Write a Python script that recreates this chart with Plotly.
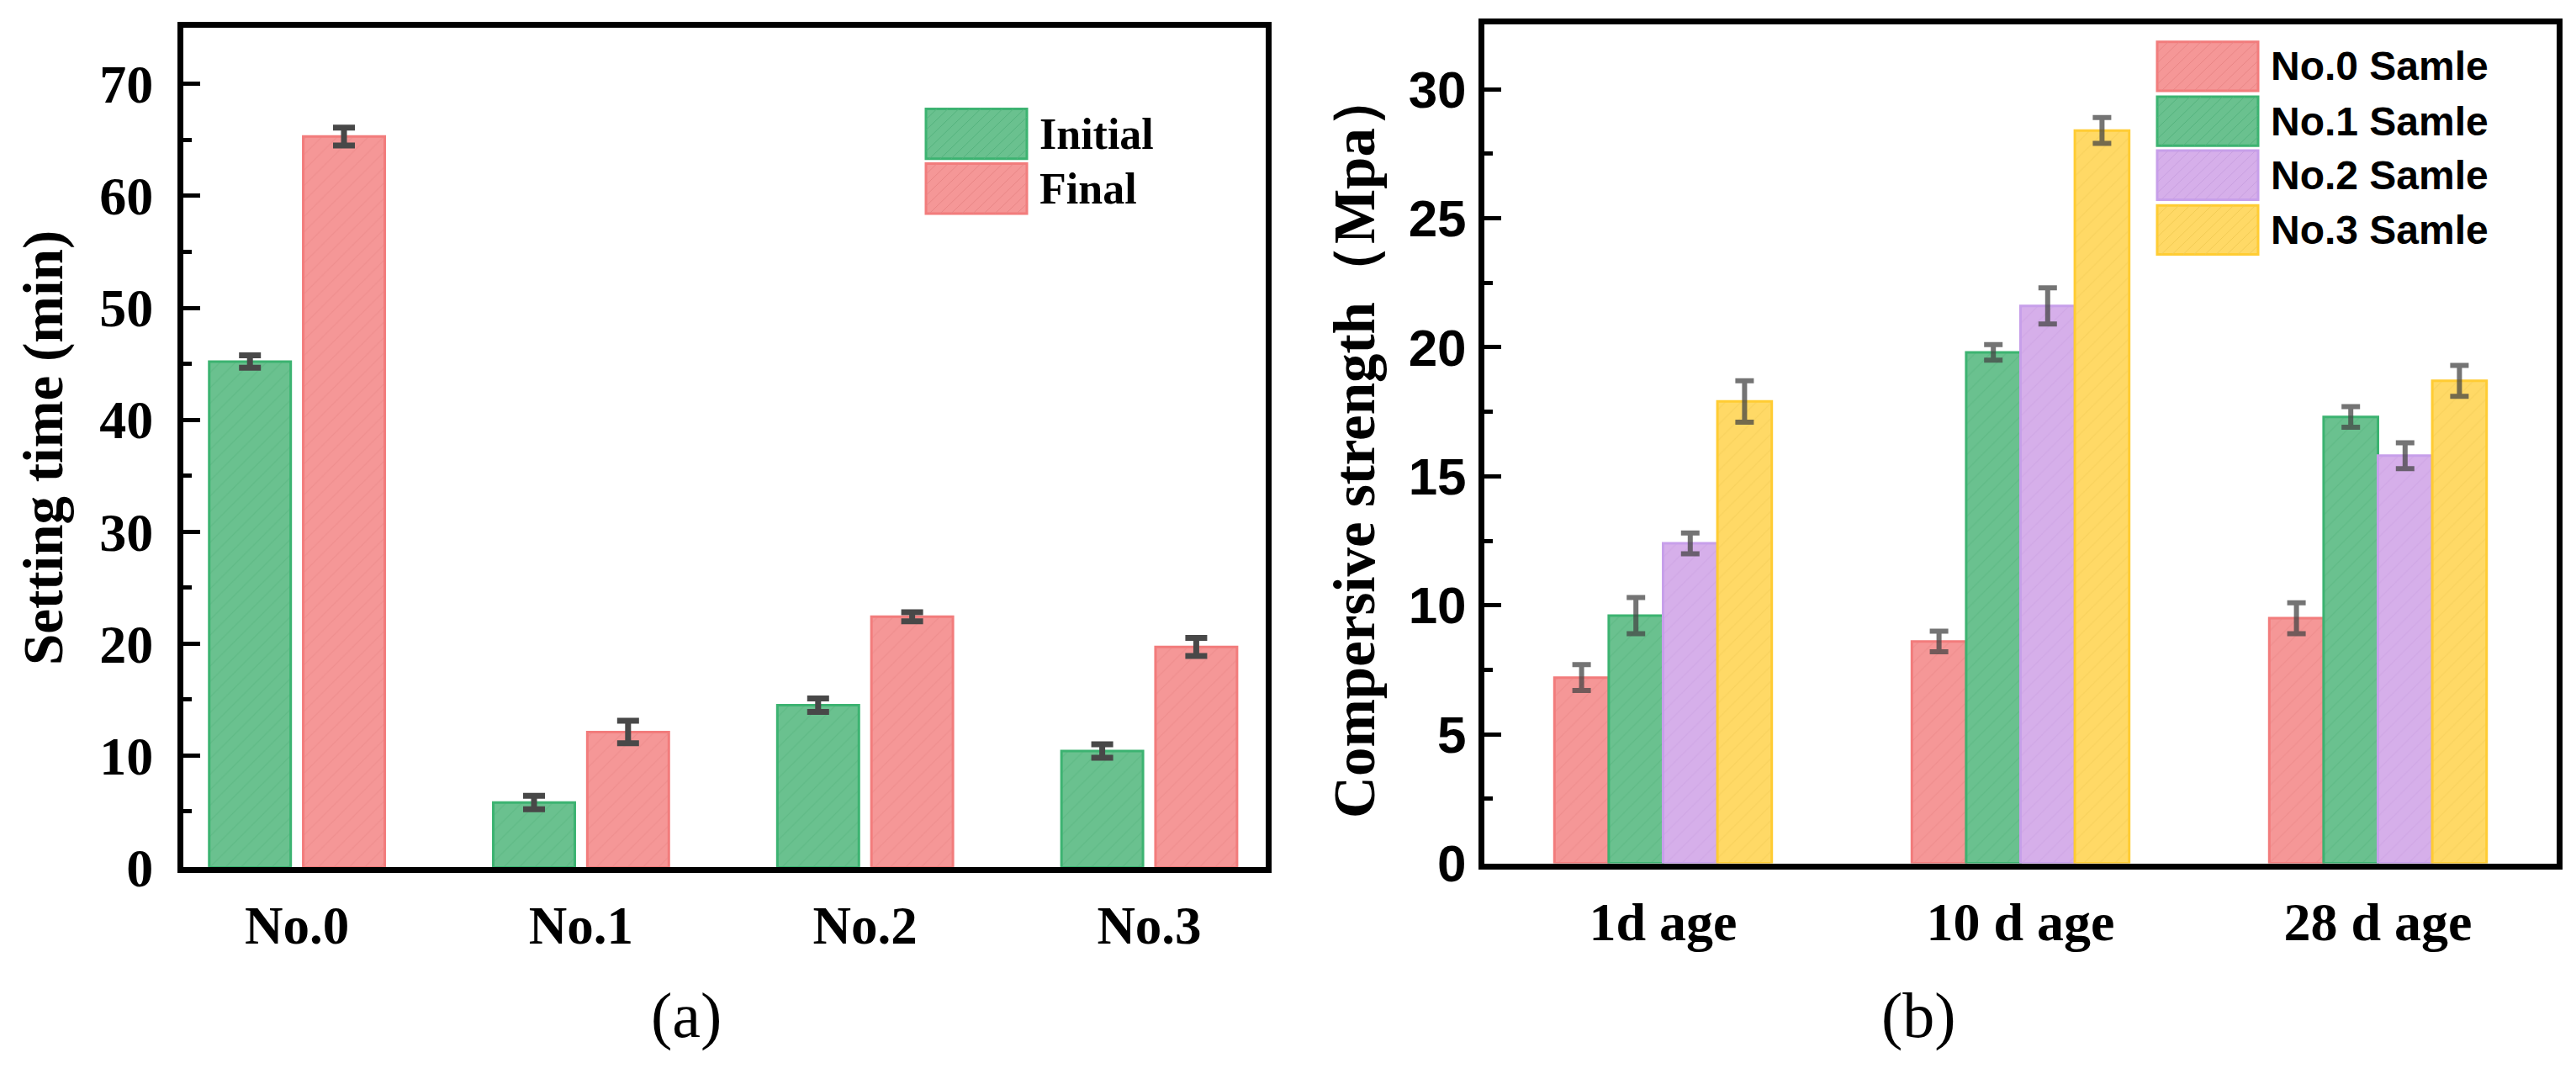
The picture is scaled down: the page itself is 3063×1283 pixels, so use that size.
import plotly.graph_objects as go

W, H = 3063, 1283

# (a) setting time
samples = ["No.0", "No.1", "No.2", "No.3"]
initial = [45.2, 5.8, 14.5, 10.4]
initial_err = [0.55, 0.6, 0.6, 0.6]
final = [65.3, 12.1, 22.4, 19.7]
final_err = [0.8, 1.0, 0.4, 0.8]

# (b) compressive strength
ages = ["1d age", "10 d age", "28 d age"]
no0 = [7.2, 8.6, 9.5]
no0_err = [0.5, 0.4, 0.6]
no1 = [9.6, 19.8, 17.3]
no1_err = [0.7, 0.3, 0.4]
no2 = [12.4, 21.6, 15.8]
no2_err = [0.4, 0.7, 0.5]
no3 = [17.9, 28.4, 18.7]
no3_err = [0.8, 0.5, 0.6]

SERIF = "Liberation Serif"
SANS = "Liberation Sans"

GREEN = dict(fill="#6AC18F", line="#3CB371", hatch="#55B37E")
RED = dict(fill="#F59797", line="#F27C7C", hatch="#E98686")
PURPLE = dict(fill="#D6AFEA", line="#C79FEA", hatch="#C9A0E0")
YELLOW = dict(fill="#FFD966", line="#FFCC33", hatch="#F2CB55")


def px_x(p):
    return p / W


def px_y(p):
    return 1 - p / H


def bar(x, y, err, c, width, offset, xa, ya, err_style):
    return go.Bar(
        x=x, y=y, width=width, offset=offset, xaxis=xa, yaxis=ya,
        showlegend=False,
        marker=dict(color=c["fill"], line=dict(color=c["line"], width=3),
                    pattern=dict(shape="/", fillmode="overlay", fgcolor=c["hatch"],
                                 size=13, solidity=0.1)),
        error_y=dict(type="data", array=err, visible=True, **err_style),
    )


fig = go.Figure()

# panel (a)
wa, ga = 0.287, 0.044
err_a = dict(color="#484848", thickness=7, width=13)
fig.add_trace(bar(samples, initial, initial_err, GREEN, wa, -ga / 2 - wa, "x", "y", err_a))
fig.add_trace(bar(samples, final, final_err, RED, wa, ga / 2, "x", "y", err_a))

# panel (b)
wb = 0.152
err_b = dict(color="rgba(70,70,70,0.75)", thickness=6, width=11)
for i, (vals, errs, c) in enumerate([(no0, no0_err, RED), (no1, no1_err, GREEN),
                                      (no2, no2_err, PURPLE), (no3, no3_err, YELLOW)]):
    fig.add_trace(bar(ages, vals, errs, c, wb, (i - 2) * wb, "x2", "y2", err_b))

axis_common = dict(showline=True, linewidth=7, linecolor="black", mirror=True,
                   showgrid=False, zeroline=False)

fig.update_layout(
    width=W, height=H,
    margin=dict(l=0, r=0, t=0, b=0),
    paper_bgcolor="white", plot_bgcolor="white",
    barmode="overlay",
    xaxis=dict(domain=[px_x(210), px_x(1497)], anchor="y", range=[-0.4, 3.41],
               ticks="", ticklabelstandoff=8,
               tickfont=dict(family=SERIF, size=63, color="black", weight="bold"),
               **axis_common),
    yaxis=dict(domain=[px_y(1053), px_y(26)], anchor="x", range=[0, 75], dtick=10,
               ticks="inside", ticklen=20, tickwidth=5, tickcolor="black",
               ticklabelstandoff=16,
               minor=dict(dtick=5, ticks="inside", ticklen=10, tickwidth=5, tickcolor="black"),
               tickfont=dict(family=SERIF, size=64, color="black", weight="bold"),
               title=dict(text="Setting time (min)", standoff=24,
                          font=dict(family=SERIF, size=67, color="black", weight="bold")),
               **axis_common),
    xaxis2=dict(domain=[px_x(1757), px_x(3032)], anchor="y2", range=[-0.5, 2.5],
                ticks="", ticklabelstandoff=8,
                tickfont=dict(family=SERIF, size=64, color="black", weight="bold"),
                **axis_common),
    yaxis2=dict(domain=[px_y(1048), px_y(22)], anchor="x2", range=[0, 32.5], dtick=5,
                ticks="inside", ticklen=20, tickwidth=5, tickcolor="black",
                ticklabelstandoff=2,
                minor=dict(dtick=2.5, ticks="inside", ticklen=10, tickwidth=5, tickcolor="black"),
                tickfont=dict(family=SANS, size=62, color="black", weight="bold"),
                title=dict(text="Compersive strength（Mpa）", standoff=20,
                           font=dict(family=SERIF, size=69, color="black", weight="bold")),
                **axis_common),
)


def hatch_path(x0, y0, x1, y1, step=13):
    parts = []
    c = x0 + y0 + step
    while c < x1 + y1:
        xa = max(x0, c - y1)
        xb = min(x1, c - y0)
        if xb > xa:
            parts.append(f"M {px_x(xa):.5f} {px_y(c - xa):.5f} L {px_x(xb):.5f} {px_y(c - xb):.5f}")
        c += step
    return " ".join(parts)


def legend(items, x0, y_tops, box_w, box_h, text_x, font):
    for (label, c), yt in zip(items, y_tops):
        fig.add_shape(type="rect", xref="paper", yref="paper",
                      x0=px_x(x0), x1=px_x(x0 + box_w), y0=px_y(yt + box_h), y1=px_y(yt),
                      fillcolor=c["fill"], line=dict(color=c["line"], width=3))
        fig.add_shape(type="path", xref="paper", yref="paper",
                      path=hatch_path(x0, yt, x0 + box_w, yt + box_h),
                      line=dict(color=c["hatch"], width=1))
        fig.add_annotation(xref="paper", yref="paper", x=px_x(text_x), y=px_y(yt + box_h / 2),
                           text=label, showarrow=False, xanchor="left", yanchor="middle",
                           font=font)


legend([("Initial", GREEN), ("Final", RED)], 1093, [125, 192], 120, 61, 1226,
       dict(family=SERIF, size=52, color="black", weight="bold"))
legend([("No.0 Samle", RED), ("No.1 Samle", GREEN), ("No.2 Samle", PURPLE),
        ("No.3 Samle", YELLOW)], 2557, [43, 110, 176, 243], 120, 60, 2690,
       dict(family=SANS, size=48, color="black", weight="bold"))

# panel captions, anchored by their bottom edge
for label, cx in [("(a)", 764), ("(b)", 2320)]:
    fig.add_annotation(xref="paper", yref="paper", x=px_x(cx), y=px_y(1280), text=label,
                       showarrow=False, yanchor="bottom",
                       font=dict(family=SERIF, size=76, color="black"))

fig.write_html("out.html")
